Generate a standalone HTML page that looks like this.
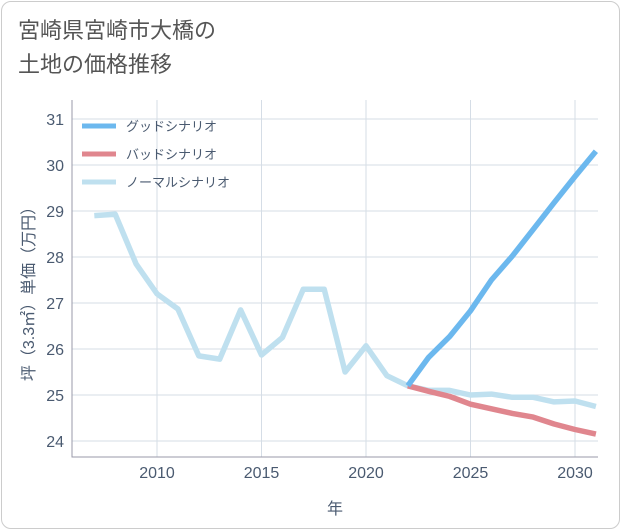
<!DOCTYPE html>
<html><head><meta charset="utf-8"><style>
body{margin:0;background:#fff;}
#card{position:absolute;left:1px;top:1px;width:617px;height:526px;border:1px solid #ccc;border-radius:10px;background:#fff;}
#title{position:absolute;left:18px;top:14px;font:22px "Liberation Sans","Noto Sans CJK JP",sans-serif;color:#555;line-height:34px;}
svg text{font-family:"Liberation Sans","Noto Sans CJK JP",sans-serif;}
</style></head><body>
<div id="card"></div>
<div id="title">宮崎県宮崎市大橋の<br>土地の価格推移</div>
<svg id="chart" width="621" height="530" style="position:absolute;left:0;top:0"></svg>
<script>
const years=[2007,2008,2009,2010,2011,2012,2013,2014,2015,2016,2017,2018,2019,2020,2021,2022,2023,2024,2025,2026,2027,2028,2029,2030,2031];
const normalVals=[28.9,28.93,27.85,27.2,26.87,25.85,25.78,26.85,25.87,26.25,27.3,27.3,25.5,26.07,25.42,25.2,25.1,25.1,25.0,25.02,24.95,24.95,24.85,24.87,24.75];
const futureYears=[2022,2023,2024,2025,2026,2027,2028,2029,2030,2031];
const goodVals=[25.2,25.82,26.27,26.83,27.5,28.02,28.6,29.18,29.75,30.3];
const badVals=[25.2,25.08,24.97,24.8,24.7,24.6,24.52,24.37,24.25,24.15];
const xTicks=[2010,2015,2020,2025,2030];
const yTicks=[24,25,26,27,28,29,30,31];
const legendLabels=["グッドシナリオ","バッドシナリオ","ノーマルシナリオ"];
const colors=["#6cb8ee","#e0868e","#bfe0ef"];
const L=72,R=598,T=100,B=457;
const x=v=>157+(v-2010)*20.9;
const y=v=>441-(v-24)*46;
const svg=document.getElementById('chart');
const NS='http://www.w3.org/2000/svg';
const TC='#4a5a70';
function mk(t,a){const e=document.createElementNS(NS,t);for(const k in a)e.setAttribute(k,a[k]);svg.appendChild(e);return e;}
for(const t of xTicks){const l=mk('line',{x1:x(t),x2:x(t),y1:T,y2:B,stroke:'#d5dde6','stroke-width':1});


const tx=mk('text',{x:x(t),y:478,'text-anchor':'middle','font-size':16,fill:TC});tx.textContent=t;

}
for(const t of yTicks){const l=mk('line',{x1:L,x2:R,y1:y(t),y2:y(t),stroke:'#d5dde6','stroke-width':1});


const tx=mk('text',{x:64,y:y(t)+6,'text-anchor':'end','font-size':16,fill:TC});tx.textContent=t;

}
const ax=mk('path',{d:`M${L} ${T}V${B}H${R}`,fill:'none',stroke:'#99a','stroke-width':1});


function line(xs,vs,c,name){const p=mk('polyline',{points:xs.map((v,i)=>x(v)+','+y(vs[i])).join(' '),fill:'none',stroke:c,'stroke-width':5.5,'stroke-linejoin':'round'});

}
line(years,normalVals,colors[2],'normal-scenario-line');
line(futureYears,badVals,colors[1],'bad-scenario-line');
line(futureYears,goodVals,colors[0],'good-scenario-line');
legendLabels.forEach((s,i)=>{const yy=126+i*28;
const l=mk('line',{x1:82,x2:116,y1:yy,y2:yy,stroke:colors[i],'stroke-width':5});


const t=mk('text',{x:126,y:yy+5,'font-size':13,fill:TC});t.textContent=s;

});
const xt=mk('text',{x:335,y:514,'text-anchor':'middle','font-size':16,fill:TC});xt.textContent='年';


const yt=mk('text',{x:0,y:0,'text-anchor':'middle','font-size':16,fill:TC,transform:'translate(34,290) rotate(-90)'});yt.textContent='坪（3.3㎡）単価（万円）';


</script>
</body></html>
